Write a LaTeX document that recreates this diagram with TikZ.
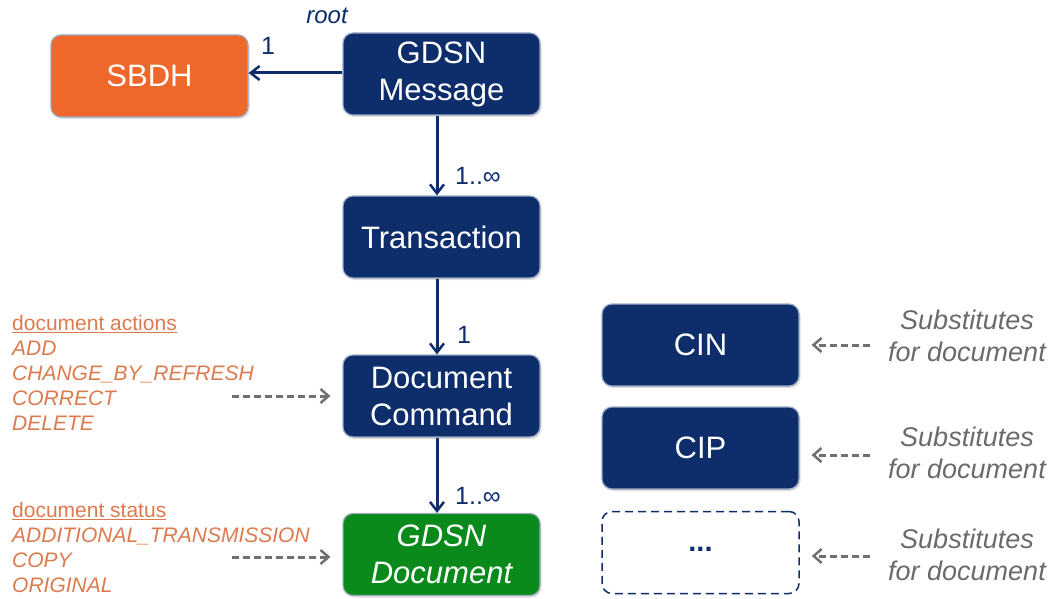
\documentclass[tikz,border=0pt]{standalone}
\usepackage{fontspec}
\setmainfont{Liberation Sans}
\usetikzlibrary{arrows.meta,shadows}
\definecolor{navy}{HTML}{0E2D6B}
\definecolor{sborange}{HTML}{EE672B}
\definecolor{docgreen}{HTML}{0A8A1A}
\definecolor{rimblue}{HTML}{9AAAC4}
\definecolor{listorange}{HTML}{DC7A4E}
\definecolor{subgray}{HTML}{6A6A6A}
\definecolor{arrgray}{HTML}{707070}
\tikzset{
  box/.style={rectangle, rounded corners=10pt, minimum width=197pt, minimum height=82pt,
    draw=rimblue, line width=1.2pt, text=white, align=center, inner sep=2pt,
    font=\fontsize{31}{37}\selectfont,
    drop shadow={opacity=0.25, shadow xshift=1.5pt, shadow yshift=-2pt}},
  navybox/.style={box, fill=navy},
  link/.style={draw=navy, line width=3pt, -{Straight Barb[length=9pt,width=14pt,line width=2.5pt]}},
  hint/.style={draw=arrgray, line width=3pt, dash pattern=on 7pt off 4pt, shorten >=12pt,
    -{Straight Barb[length=8pt,width=14pt,line width=2.5pt]}},
  mult/.style={text=navy, font=\fontsize{25}{30}\selectfont, inner sep=0pt},
  listtxt/.style={text=listorange, font=\fontsize{21}{25}\selectfont, align=left, inner sep=0pt, anchor=north west},
  subtxt/.style={text=subgray, font=\fontsize{27}{32}\selectfont\itshape, align=center, inner sep=0pt}
}
\begin{document}
\begin{tikzpicture}[x=1pt,y=-1pt]
\useasboundingbox (0,0) rectangle (1052,599);
% boxes
\node[navybox] (msg) at (441.5,74) {GDSN\\Message};
\node[box, fill=sborange] (sbdh) at (149.5,76) {SBDH};
\node[navybox] (trans) at (441.5,237) {Transaction};
\node[navybox] (cmd) at (441.5,396) {Document\\Command};
\node[box, fill=docgreen, font=\fontsize{31}{37}\selectfont\itshape] (doc) at (441.5,554.5) {GDSN\\Document};
\node[navybox] (cin) at (700.5,345) {CIN};
\node[navybox] (cip) at (700.5,448) {CIP};
\node[rectangle, rounded corners=10pt, minimum width=197pt, minimum height=82pt,
  draw=navy, line width=1.5pt, dash pattern=on 8pt off 5pt, fill=white, text=navy,
  font=\fontsize{29}{35}\selectfont\bfseries] (more) at (700.5,552.5) {\raisebox{6pt}{...}};
% connectors
\draw[link] (msg.west |- 0,73) -- (sbdh.east |- 0,73);
\draw[link] (msg.south -| 437,0) -- (trans.north -| 437,0);
\draw[link] (trans.south -| 437,0) -- (cmd.north -| 437,0);
\draw[link] (cmd.south -| 437,0) -- (doc.north -| 437,0);
% multiplicities
\node[mult, font=\fontsize{24}{28}\selectfont\itshape] (rootlbl) at (327,16) {root};
\node[mult] (m1) at (268,46) {1};
\node[mult] (m2) at (478,176) {1..∞};
\node[mult] (m3) at (464,335) {1};
\node[mult] (m4) at (478,496) {1..∞};
% left lists
\node[listtxt] (actions) at (12,315) {\underline{document actions}\\\itshape ADD\\\itshape CHANGE\_BY\_REFRESH\\\itshape CORRECT\\\itshape DELETE};
\node[listtxt] (status) at (12,502) {\underline{document status}\\\itshape ADDITIONAL\_TRANSMISSION\\\itshape COPY\\\itshape ORIGINAL};
\coordinate (a1) at (232,396);
\coordinate (a2) at (232,557);
\draw[hint] (a1) -- (cmd.west |- a1);
\draw[hint] (a2) -- (doc.west |- a2);
% right substitutes
\node[subtxt] (s1) at (967,336) {Substitutes\\for document};
\node[subtxt] (s2) at (967,453) {Substitutes\\for document};
\node[subtxt] (s3) at (967,555) {Substitutes\\for document};
\coordinate (b1) at (870,345);
\coordinate (b2) at (870,455);
\coordinate (b3) at (870,556);
\draw[hint] (b1) -- (cin.east |- b1);
\draw[hint] (b2) -- (cip.east |- b2);
\draw[hint] (b3) -- (more.east |- b3);
\end{tikzpicture}
\end{document}
